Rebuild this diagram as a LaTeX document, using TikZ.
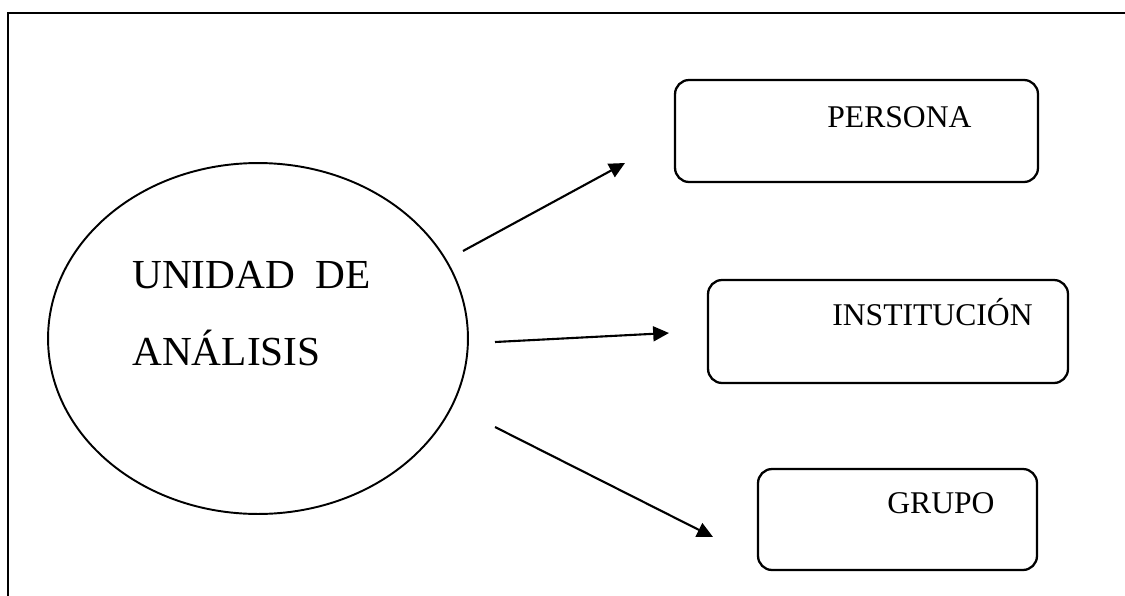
\documentclass[tikz,border=0pt]{standalone}
\usepackage{fontspec}
\setmainfont{Liberation Serif}
\usetikzlibrary{arrows.meta,shapes,positioning}
\tikzset{
    %Define style for boxes
    unidad/.style={
        ellipse,
        draw=black, line width=1.1pt,
        minimum width=8.4cm,
        minimum height=7.02cm,
    },
    caja/.style={
        rectangle,
        rounded corners=8pt,
        draw=black, line width=1.3pt,
    },
    txt/.style={
        draw = none,
        inner sep = 0pt,
        anchor = base west,
        font = \fontsize{18}{22}\selectfont,
    },
    txtbig/.style={
        txt,
        font = \fontsize{23.5}{28}\selectfont,
    },
    flecha/.style={
        line width=1.2pt,
        -{Triangle[length=9pt,width=8.5pt]}
    },
}
\begin{document}
\begin{tikzpicture}[x=0.02cm,y=-0.02cm]
		\useasboundingbox (0,0) rectangle (1125,595);
		\draw[line width=1.6pt] (8,600) -- (8,13) -- (1130,13);

		\node[unidad] (U) at (258,338.5) {};
		\node[txtbig] (U1) at (132,288) {UNIDAD\ \ DE};
		\node[txtbig] (U2) at (132,365) {ANÁLISIS};

		\node[caja, minimum width=7.26cm, minimum height=2.04cm] (P) at (856.5,131) {};
		\node[caja, minimum width=7.2cm, minimum height=2.06cm] (I) at (888,331.5) {};
		\node[caja, minimum width=5.58cm, minimum height=2.02cm] (G) at (897.5,519.5) {};
		\node[txt] (Pt) at (827,127) {PERSONA};
		\node[txt] (It) at (832,325) {INSTITUCIÓN};
		\node[txt] (Gt) at (887,513) {GRUPO};

		\coordinate (a1) at (463,251);
		\coordinate (b1) at (625,163);
		\coordinate (a2) at (495,342);
		\coordinate (b2) at (669,333);
		\coordinate (a3) at (495,427);
		\coordinate (b3) at (713,537);
		\draw[flecha] (a1) -- (b1);
		\draw[flecha] (a2) -- (b2);
		\draw[flecha] (a3) -- (b3);
	\end{tikzpicture}
\end{document}
